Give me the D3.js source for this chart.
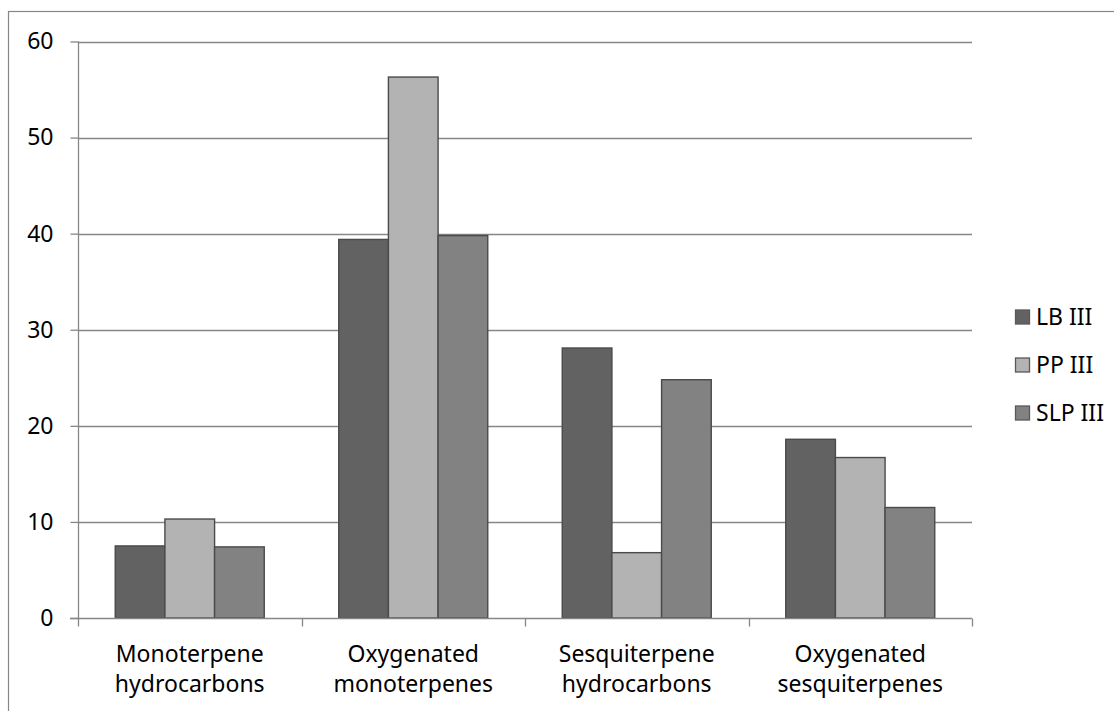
<!DOCTYPE html>
<html>
<head>
<meta charset="utf-8">
<script src="https://cdn.jsdelivr.net/npm/d3@7"></script>
<style>
html,body{margin:0;padding:0;background:#fff;}
svg{display:block;}
text{font-family:"Noto Sans",sans-serif;fill:#000;}
</style>
</head>
<body>
<svg id="chart" width="1114" height="711"></svg>
<script>
const categories = [["Monoterpene","hydrocarbons"],["Oxygenated","monoterpenes"],["Sesquiterpene","hydrocarbons"],["Oxygenated","sesquiterpenes"]];
const seriesNames = ["LB III","PP III","SLP III"];
const lbValues = [7.5, 39.4, 28.1, 18.6];
const ppValues = [10.3, 56.3, 6.8, 16.7];
const slpValues = [7.4, 39.8, 24.8, 11.5];
const seriesColors = ["#626262","#b3b3b3","#828282"];
const yTicks = [0,10,20,30,40,50,60];

(function(){
const seriesValues = [lbValues, ppValues, slpValues];
const svg = d3.select("#chart");
const fontSize = 23;

// outer frame
svg.append("rect").attr("x",8.5).attr("y",11.5).attr("width",1200).attr("height",800)
  .attr("fill","none").attr("stroke","#878787").attr("stroke-width",1.2);

const pLeft = 78, pRight = 972, pTop = 41.5, pBottom = 618;
const catKeys = categories.map((c,i)=>i);
const x0 = d3.scaleBand().domain(catKeys).range([pLeft,pRight]).paddingInner(0).paddingOuter(0);
const barW = x0.bandwidth()/4.5;
const x1 = d3.scaleBand().domain(d3.range(seriesNames.length)).range([0, barW*3]);
const y = d3.scaleLinear().domain([0,60]).range([pBottom, pTop]);
const gridColor = "#878787";

// gridlines
svg.append("g").selectAll("line").data(yTicks.filter(t=>t>0)).join("line")
  .attr("x1",pLeft).attr("x2",pRight).attr("y1",d=>Math.round(y(d))+0.5).attr("y2",d=>Math.round(y(d))+0.5)
  .attr("stroke",gridColor).attr("stroke-width",1.3);

// y axis
const yAxis = d3.axisLeft(y).tickValues(yTicks).tickSize(8).tickPadding(17).tickFormat(d3.format("d"));
const gy = svg.append("g").attr("transform",`translate(${pLeft+0.5},0)`).call(yAxis);
gy.select(".domain").attr("stroke",gridColor).attr("stroke-width",1.3).attr("d",`M0,${pTop}V${pBottom}`);
gy.selectAll(".tick line").attr("stroke",gridColor).attr("stroke-width",1.3);
gy.selectAll(".tick text").style("font-size",fontSize+"px").style("font-family","'Noto Sans',sans-serif").attr("fill","#000");

// bars
const groups = svg.append("g").selectAll("g").data(catKeys).join("g")
  .attr("transform",d=>`translate(${x0(d)+(x0.bandwidth()-barW*3)/2},0)`);
groups.selectAll("rect").data(ci=>seriesValues.map((vals,si)=>({si, v: vals[ci]}))).join("rect")
  .attr("x",d=>x1(d.si)).attr("width",x1.bandwidth())
  .attr("y",d=>y(d.v)).attr("height",d=>y(0)-y(d.v))
  .attr("fill",d=>seriesColors[d.si]).attr("stroke","#4a4a4a").attr("stroke-width",1.4);

// x axis
const xAxisScale = d3.scaleLinear().domain([0,categories.length]).range([pLeft,pRight]);
const gx = svg.append("g").attr("transform",`translate(0,${Math.round(pBottom)+0.5})`);
gx.append("line").attr("x1",pLeft-8).attr("x2",pRight).attr("y1",0).attr("y2",0)
  .attr("stroke",gridColor).attr("stroke-width",1.3);
gx.selectAll("line.tk").data(d3.range(categories.length+1)).join("line").attr("class","tk")
  .attr("x1",d=>Math.round(xAxisScale(d))+0.5).attr("x2",d=>Math.round(xAxisScale(d))+0.5)
  .attr("y1",0).attr("y2",8).attr("stroke",gridColor).attr("stroke-width",1.3);

const lbl = svg.append("g").selectAll("text").data(catKeys).join("text")
  .attr("x",d=>x0(d)+x0.bandwidth()/2).attr("y",662)
  .attr("text-anchor","middle").style("font-size",fontSize+"px");
lbl.selectAll("tspan").data(d=>categories[d]).join("tspan")
  .attr("x",function(){return d3.select(this.parentNode).attr("x");})
  .attr("dy",(d,i)=>i===0?0:30).text(d=>d);

// legend
const leg = svg.append("g").selectAll("g").data(seriesNames).join("g")
  .attr("transform",(d,i)=>`translate(1015,${317+i*48})`);
leg.append("rect").attr("x",0.5).attr("y",-7).attr("width",14).attr("height",14)
  .attr("fill",(d,i)=>seriesColors[i]).attr("stroke","#5a5a5a").attr("stroke-width",1.3);
leg.append("text").attr("x",21).attr("y",0).attr("dy","0.35em").style("font-size",fontSize+"px").text(d=>d);
})();
</script>
</body>
</html>
